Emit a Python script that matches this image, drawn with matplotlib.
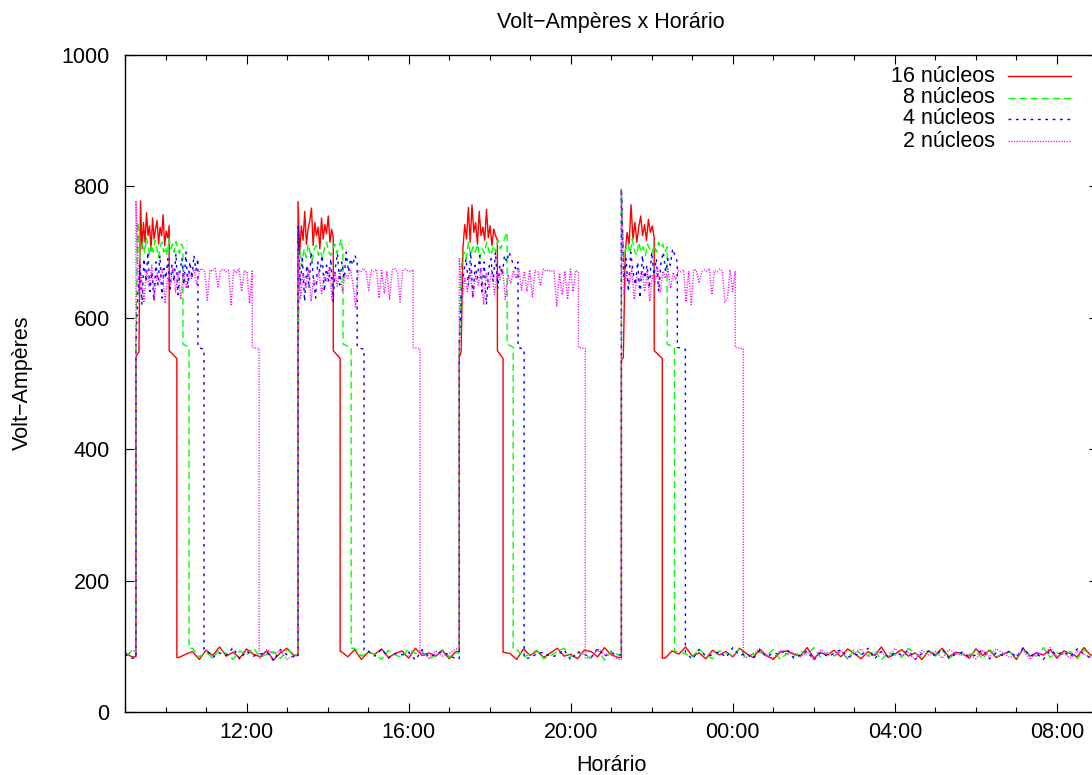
import numpy as np
import matplotlib
matplotlib.use("Agg")
import matplotlib.pyplot as plt
from matplotlib.ticker import MultipleLocator, FuncFormatter

# time in hours since midnight of the first day (24+ = next day)
t_start = 9.0
t_end = 33.0

labels = ["16 núcleos", "8 núcleos", "4 núcleos", "2 núcleos"]
colors = ["#ff0000", "#00ff00", "#0000ff", "#ff00ff"]

# moments where each run starts (same for all series)
rises = [9.27, 13.27, 17.25, 21.25]

# end of the high phase, end of the ~550 VA shelf
red_drop = [10.09, 14.14, 18.19, 22.06]
red_off = [10.28, 14.31, 18.33, 22.26]
green_drop = [10.43, 14.38, 18.43, 22.38]
green_off = [10.58, 14.58, 18.58, 22.56]
blue_drop = [10.80, 14.73, 18.70, 22.63]
blue_off = [10.95, 14.90, 18.85, 22.83]
magenta_drop = [12.14, 16.11, 20.19, 24.06]
magenta_off = [12.31, 16.28, 20.36, 24.26]

red_shelf = [550, 538]
green_shelf = [560, 555]
blue_shelf = [555, 552]
magenta_shelf = [555, 553]

# readings during the high phase of each run
red_high = [
    [540, 545, 548, 778, 705, 745, 715, 760, 725, 740, 702, 752, 720, 735, 748, 712, 738, 725, 757, 710, 732, 722, 740],
    [777, 700, 740, 718, 762, 712, 735, 748, 767, 710, 745, 725, 738, 705, 752, 720, 742, 728, 755, 715, 735, 722],
    [540, 548, 705, 742, 720, 768, 715, 772, 730, 745, 712, 762, 725, 738, 718, 765, 722, 740, 710, 735, 725, 718],
    [535, 540, 700, 730, 712, 772, 720, 745, 715, 738, 755, 725, 742, 718, 750, 730, 740, 722],
]
green_high = [
    [560, 746, 690, 705, 715, 698, 722, 708, 695, 712, 700, 718, 705, 692, 710, 715, 700, 708, 695, 720, 705, 712, 700, 716, 705, 698, 712, 708],
    [555, 700, 685, 705, 692, 712, 698, 688, 705, 710, 695, 702, 690, 708, 715, 700, 695, 705, 712, 698, 706, 720, 700],
    [560, 680, 700, 690, 715, 695, 708, 700, 712, 690, 705, 698, 715, 702, 695, 710, 700, 718, 705, 712, 722, 730],
    [795, 690, 705, 712, 698, 720, 702, 695, 715, 700, 708, 695, 712, 705, 698, 710, 700, 715, 706, 712, 700, 708],
]
blue_high = [
    [560, 640, 680, 620, 690, 655, 700, 640, 670, 625, 685, 650, 695, 630, 675, 660, 690, 640, 680, 655, 698, 635, 670, 690, 650, 700, 645, 685, 660, 695, 672, 690],
    [740, 650, 690, 625, 680, 645, 700, 660, 630, 685, 670, 695, 640, 680, 655, 690, 625, 675, 698, 650, 685, 660, 700, 670, 690, 680, 695, 685],
    [560, 640, 670, 690, 650, 700, 630, 680, 660, 695, 640, 685, 620, 675, 690, 655, 700, 645, 680, 665, 695, 685, 700, 690, 680, 675, 685],
    [795, 660, 690, 640, 700, 670, 650, 685, 630, 695, 660, 680, 645, 700, 665, 690, 640, 685, 700, 670, 690, 680, 705, 695, 685],
]
magenta_high = [
    [778, 640, 665, 625, 672, 648, 680, 632, 668, 655, 675, 622, 662, 650, 676, 638, 670, 628, 673, 645, 671, 660, 674,
     650, 672, 675, 670, 627, 673, 671, 675, 647, 672, 674, 670, 672, 620, 673, 668, 675, 640, 672, 670, 622, 671],
    [700, 630, 668, 645, 675, 625, 660, 650, 672, 635, 665, 655, 678, 628, 670, 648, 673, 640, 668, 660, 674, 652, 615,
     672, 670, 675, 671, 642, 673, 670, 674, 630, 672, 637, 671, 627, 673, 675, 670, 624, 672, 674, 671, 670, 673],
    [690, 625, 660, 640, 672, 630, 665, 650, 676, 620, 668, 645, 673, 635, 670, 658, 675, 628, 666, 652, 672, 660, 674,
     642, 671, 640, 673, 632, 672, 670, 650, 674, 671, 673, 670, 672, 617, 668, 635, 671, 628, 674, 640, 672, 670],
    [795, 635, 668, 650, 675, 628, 662, 655, 672, 640, 670, 625, 666, 652, 677, 638, 671, 660, 674, 645, 669, 658, 672,
     670, 673, 624, 671, 620, 674, 672, 653, 670, 673, 671, 675, 635, 672, 670, 674, 671, 624, 630, 673, 640, 671],
]

# idle readings, every ~10 minutes from 09:00 to 09:00
red_base = [90, 84, 95, 87, 81, 93, 89, 97, 83, 88, 92, 80, 94, 86, 99, 85, 91, 82, 96, 88, 84, 93, 79, 90, 97, 86, 83,
            94, 89, 81, 98, 87, 92, 84, 95, 80, 91, 88, 96, 83, 89, 93, 82, 97, 86, 90, 85, 94, 81, 92, 88, 99, 84, 87,
            95, 82, 91, 89, 80, 96, 86, 93, 83, 90, 97, 85, 88, 81, 94, 92, 84, 98, 87, 83, 95, 89, 80, 91, 96, 86, 82,
            93, 88, 99, 85, 90, 81, 94, 87, 92, 84, 97, 89, 83, 95, 86, 80, 91, 93, 88, 85, 98, 82, 90, 87, 94, 84, 96,
            89, 81, 92, 86, 99, 83, 88, 95, 85, 90, 80, 93, 87, 97, 84, 91, 89, 82, 96, 86, 94, 83, 88, 92, 80, 97, 85,
            90, 87, 95, 82, 93, 89, 84, 98, 86, 91]
green_base = [85, 92, 81, 96, 88, 83, 94, 79, 90, 87, 97, 84, 91, 82, 95, 89, 80, 93, 86, 98, 83, 88, 92, 81, 95, 87, 84,
              96, 90, 79, 93, 86, 89, 82, 97, 85, 91, 88, 80, 94, 87, 83, 96, 89, 92, 81, 86, 95, 84, 90, 98, 82, 88, 93,
              85, 80, 91, 87, 96, 83, 89, 94, 81, 86, 92, 97, 84, 90, 88, 82, 95, 79, 93, 87, 85, 91, 98, 83, 89, 86, 94,
              80, 92, 88, 84, 96, 87, 81, 93, 90, 85, 97, 82, 88, 91, 86, 95, 80, 89, 84, 93, 87, 98, 83, 90, 85, 92, 81,
              96, 88, 86, 94, 79, 91, 87, 83, 97, 89, 84, 92, 85, 95, 81, 90, 88, 86, 93, 80, 96, 84, 89, 91, 82, 94, 87,
              85, 98, 83, 90, 88, 92, 81, 95, 86, 89]
blue_base = [88, 82, 94, 86, 91, 79, 96, 84, 89, 92, 81, 87, 95, 83, 90, 86, 98, 80, 93, 85, 88, 91, 78, 95, 87, 84, 92,
             89, 81, 97, 86, 83, 94, 88, 90, 80, 93, 85, 96, 82, 89, 87, 91, 79, 95, 84, 88, 92, 86, 81, 97, 83, 90, 94,
             85, 88, 80, 93, 87, 96, 82, 89, 91, 84, 86, 95, 79, 92, 88, 83, 97, 85, 90, 87, 81, 94, 89, 84, 96, 86, 82,
             93, 88, 91, 80, 95, 85, 87, 92, 83, 98, 86, 89, 81, 94, 84, 90, 88, 96, 82, 87, 93, 79, 91, 85, 89, 95, 83,
             88, 86, 97, 81, 92, 84, 90, 87, 94, 80, 89, 93, 85, 96, 82, 88, 91, 84, 87, 95, 81, 90, 86, 93, 83, 98, 85,
             89, 80, 94, 87, 92, 84, 96, 88, 82, 90]
magenta_base = [84, 93, 87, 80, 95, 89, 83, 91, 97, 85, 88, 81, 94, 86, 92, 79, 96, 84, 90, 87, 82, 95, 89, 93, 80, 86,
                98, 83, 91, 88, 85, 94, 81, 90, 96, 84, 87, 92, 79, 95, 88, 83, 97, 86, 90, 82, 93, 85, 89, 96, 80, 91,
                87, 84, 94, 88, 81, 97, 85, 92, 83, 90, 86, 95, 79, 89, 93, 84, 88, 82, 96, 87, 91, 80, 94, 86, 89, 98,
                83, 90, 85, 92, 81, 95, 87, 84, 93, 88, 80, 96, 86, 91, 83, 89, 97, 85, 82, 94, 88, 90, 84, 92, 79, 95,
                87, 86, 93, 81, 89, 96, 84, 88, 91, 83, 97, 85, 90, 80, 94, 87, 92, 82, 95, 89, 86, 88, 81, 93, 84, 96,
                90, 83, 87, 94, 80, 91, 86, 98, 85, 89, 82, 93, 88, 84, 90]


def build(base, highs, drops, shelf, offs):
    bt = np.linspace(t_start, t_end, len(base))
    bv = np.array(base, dtype=float)
    ts, vs = [], []
    prev = t_start - 1
    for r, hv, d, o in zip(rises, highs, drops, offs):
        m = (bt > prev) & (bt < r)
        ts += list(bt[m]) + [r]
        vs += list(bv[m]) + [bv[m][-1]]
        ts += list(np.linspace(r, d, len(hv))) + [d, o]
        vs += list(hv) + shelf
        nxt = bv[bt > o][0]
        ts.append(o)
        vs.append(nxt)
        prev = o
    m = bt > prev
    ts += list(bt[m])
    vs += list(bv[m])
    return np.array(ts), np.array(vs)


series = [
    build(red_base, red_high, red_drop, red_shelf, red_off),
    build(green_base, green_high, green_drop, green_shelf, green_off),
    build(blue_base, blue_high, blue_drop, blue_shelf, blue_off),
    build(magenta_base, magenta_high, magenta_drop, magenta_shelf, magenta_off),
]
styles = ["-", (0, (5, 3)), (0, (2, 3.3)), (0, (0.8, 1.1))]

plt.rcParams["font.family"] = ["Liberation Sans", "DejaVu Sans"]
plt.rcParams["font.size"] = 15.5

fig = plt.figure(figsize=(10.92, 7.75), dpi=100)
ax = fig.add_axes([125 / 1092, 63 / 775, 972.5 / 1092, 657 / 775])

for (t, v), c, ls in zip(series, colors, styles):
    ax.plot(t, v, color=c, linestyle=ls, linewidth=1.0)

ax.set_xlim(t_start, t_end)
ax.set_ylim(0, 1000)
ax.yaxis.set_major_locator(MultipleLocator(200))
ax.xaxis.set_major_locator(MultipleLocator(4))
ax.xaxis.set_minor_locator(MultipleLocator(1))
ax.xaxis.set_major_formatter(FuncFormatter(lambda x, p: "%02d:00" % (int(round(x)) % 24)))

ax.tick_params(which="both", direction="in", top=True, right=True, width=0.8)
ax.tick_params(which="major", length=6.5)
ax.tick_params(which="minor", length=3.6)
ax.tick_params(axis="y", pad=11)
ax.tick_params(axis="x", pad=7)
for s in ax.spines.values():
    s.set_linewidth(1.0)

ax.set_title("Volt\u2212Ampères x Horário", pad=19.5, fontsize=15.5)
ax.set_xlabel("Horário")
ax.xaxis.set_label_coords(0.5, -0.066)
fig.text(22 / 1092, 1 - 383 / 775, "Volt\u2212Ampères", rotation=90, ha="center", va="center")

# gnuplot-style key: text right-aligned, sample line on the right
key_y = [0.968, 0.9346, 0.9026, 0.869]
for lab, c, ls, y in zip(labels, colors, styles, key_y):
    ax.text(0.8946, y, lab, transform=ax.transAxes, ha="right", va="center")
    ax.plot([0.908, 0.9727], [y, y], transform=ax.transAxes, color=c, linestyle=ls, linewidth=1.0)

fig.savefig("out.png", dpi=100)
